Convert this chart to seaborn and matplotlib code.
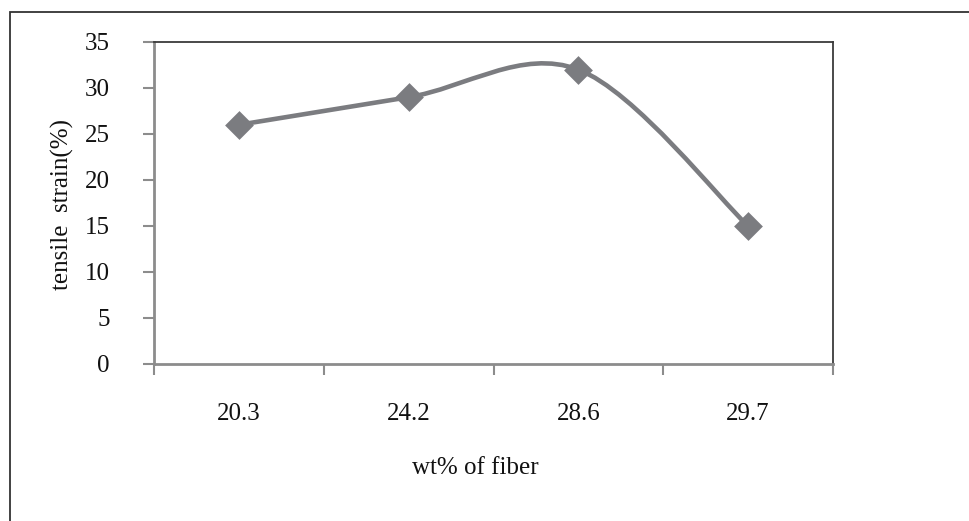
import numpy as np
import pandas as pd
import matplotlib
matplotlib.use("Agg")
import matplotlib.pyplot as plt
from matplotlib.path import Path
from matplotlib.patches import PathPatch, Rectangle
import seaborn as sns

# ---- data ----
fiber_wt = ["20.3", "24.2", "28.6", "29.7"]
tensile_strain = [26, 29, 32, 15]
y_ticks = [0, 5, 10, 15, 20, 25, 30, 35]
x_title = "wt% of fiber"
y_title = "tensile  strain(%)"

LINE = "#7b7c80"
sns.set_theme(style="white")
plt.rcParams["font.family"] = ["Liberation Serif", "DejaVu Serif"]
FS = 18

df = pd.DataFrame({"pos": np.arange(len(fiber_wt)), "val": tensile_strain})

fig = plt.figure(figsize=(9.69, 5.21), dpi=100)
W, H = 969, 521
ax = fig.add_axes([154 / W, 1 - 364 / H, (833 - 154) / W, (364 - 42) / H])

# outer frame (left & top visible)
fig.add_artist(Rectangle((10 / W, -0.2), 1.5, 1.2 - 12 / H, transform=fig.transFigure,
                         fill=False, edgecolor="#333333", linewidth=1.3))

# smoothed line (Excel-style Bezier through the data points)
px = df["pos"].to_numpy(dtype=float)
py = df["val"].to_numpy(dtype=float)
pts = np.column_stack([px, py])
verts = [tuple(pts[0])]
codes = [Path.MOVETO]
n = len(pts)
for i in range(n - 1):
    p_prev = pts[i - 1] if i > 0 else pts[i]
    p_next2 = pts[i + 2] if i + 2 < n else pts[i + 1]
    c1 = pts[i] + (pts[i + 1] - p_prev) / 6.0
    c2 = pts[i + 1] - (p_next2 - pts[i]) / 6.0
    verts += [tuple(c1), tuple(c2), tuple(pts[i + 1])]
    codes += [Path.CURVE4] * 3
ax.add_patch(PathPatch(Path(verts, codes), fill=False, edgecolor=LINE,
                       linewidth=3.3, capstyle="round", zorder=2))

sns.scatterplot(data=df, x="pos", y="val", marker="D", s=215, color=LINE,
                edgecolor=LINE, linewidth=0, ax=ax, zorder=3, legend=False)

ax.set_xlim(-0.5, len(fiber_wt) - 0.5)
ax.set_ylim(0, 35)
ax.set_yticks(y_ticks)
ax.set_yticklabels([str(v) for v in y_ticks], fontsize=FS, color="#111111")
ax.set_xticks(np.arange(len(fiber_wt)))
ax.set_xticklabels(fiber_wt, fontsize=FS, color="#111111")
ax.set_xticks(np.arange(len(fiber_wt) + 1) - 0.5, minor=True)

ax.tick_params(axis="x", which="major", length=0, pad=28)
ax.tick_params(axis="x", which="minor", length=8, width=1.5, color="#8c8c8c",
               direction="out", bottom=True)
ax.tick_params(axis="y", which="major", length=8, width=1.5, color="#8c8c8c",
               direction="out", left=True, pad=24)

for s in ["left", "bottom"]:
    ax.spines[s].set_color("#8c8c8c")
    ax.spines[s].set_linewidth(2.0)
for s in ["top", "right"]:
    ax.spines[s].set_color("#3a3a3a")
    ax.spines[s].set_linewidth(1.3)
for s in ax.spines.values():
    s.set_visible(True)

ax.set_xlabel(x_title, fontsize=FS, color="#111111")
ax.set_ylabel(y_title, fontsize=FS, color="#111111")
ax.xaxis.set_label_coords(475 / W, 1 - 457 / H, transform=fig.transFigure)
ax.yaxis.set_label_coords(74 / W, 1 - 205 / H, transform=fig.transFigure)

fig.savefig("out.png", dpi=100)
